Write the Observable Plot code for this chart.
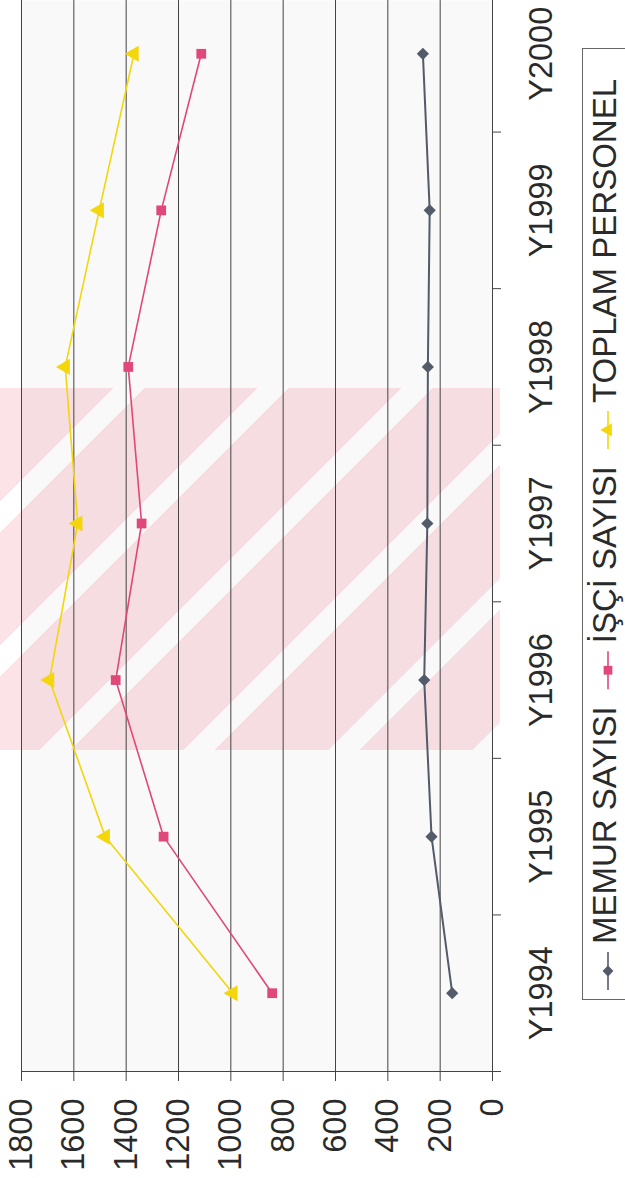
<!DOCTYPE html>
<html>
<head>
<meta charset="utf-8">
<script src="https://cdn.jsdelivr.net/npm/d3@7"></script>
<script src="https://cdn.jsdelivr.net/npm/@observablehq/plot@0.6"></script>
<style>
  html, body { margin: 0; padding: 0; background: #fff; width: 625px; height: 1178px; overflow: hidden; }
  #wrap { position: relative; width: 625px; height: 1178px; overflow: hidden; font-family: "Liberation Sans", Arial, sans-serif; }
  #wm { position: absolute; left: 0; top: 388px; width: 500px; height: 362px;
        background: repeating-linear-gradient(135deg, #fbe3e8 0 80px, #ffffff 80px 102px); }
  #chart { position: absolute; left: 0; top: 0; }
  #legend { position: absolute; left: 582px; top: 1000px; width: 952px; height: 70px;
            transform-origin: 0 0; transform: rotate(-90deg); }
</style>
</head>
<body>
<div id="wrap">
  <div id="wm"></div>
  <div id="chart"></div>
  <div id="legend"></div>
</div>
<script>
// ---- data ----
const categories = ["Y1994", "Y1995", "Y1996", "Y1997", "Y1998", "Y1999", "Y2000"];
const memurSayisi = [154, 233, 261, 249, 247, 240, 266];
const isciSayisi = [842, 1257, 1440, 1341, 1392, 1266, 1113];
const toplamPersonel = [992, 1480, 1693, 1585, 1633, 1503, 1370];
const seriesNames = ["MEMUR SAYISI", "İŞÇİ SAYISI", "TOPLAM PERSONEL"];
const valueTicks = [0, 200, 400, 600, 800, 1000, 1200, 1400, 1600, 1800];

const colors = ["#535a69", "#e0487a", "#f3d60c"];
const symbols = ["diamond2", "square", "triangle"];

const seriesValues = [memurSayisi, isciSayisi, toplamPersonel];
const rows = seriesValues.flatMap((vals, s) =>
  vals.map((v, i) => ({series: seriesNames[s], s, i, cat: categories[i], value: v})));

const catIdx = categories.map((c, i) => i);
const catBounds = categories.map((c, i) => i - 0.5).concat([categories.length - 0.5]);
const font = "Liberation Sans, Arial, sans-serif";

const chart = Plot.plot({
  width: 625,
  height: 1178,
  marginLeft: 21,
  marginRight: 133,
  marginTop: 0,
  marginBottom: 107,
  style: {background: "transparent", fontFamily: font, color: "#2a2a2a", overflow: "hidden"},
  x: {domain: [0, 1800], reverse: true},
  y: {type: "linear", domain: [-0.5, categories.length - 0.5], range: [1071, -25]},
  marks: [
    Plot.frame({fill: "#000", fillOpacity: 0.025, stroke: null}),
    Plot.ruleX(valueTicks, {stroke: "#444", strokeWidth: 1}),
    Plot.ruleY([-0.5], {stroke: "#444", strokeWidth: 1}),
    Plot.axisX({ticks: valueTicks, anchor: "bottom", tickSize: 10, tickPadding: 17,
      tickRotate: -90, textAnchor: "end", lineAnchor: "middle", fontSize: 32.5,
      tickFormat: d => String(d), label: null, stroke: "#444"}),
    Plot.axisY({ticks: catBounds, anchor: "right", tickSize: 8, tickFormat: () => "",
      label: null, stroke: "#444"}),
    Plot.axisY({ticks: catIdx, anchor: "right", tickSize: 0, tickPadding: 36,
      tickRotate: -90, textAnchor: "middle", lineAnchor: "top", fontSize: 32.5,
      tickFormat: i => categories[i], label: null}),
    ...seriesNames.map((name, s) => Plot.line(rows.filter(d => d.s === s), {
      x: "value", y: "i", stroke: colors[s], strokeWidth: s === 0 ? 2 : 1.6
    })),
    ...seriesNames.map((name, s) => Plot.dot(rows.filter(d => d.s === s), {
      x: "value", y: "i", fill: colors[s], stroke: "none",
      symbol: symbols[s], r: s === 2 ? 6 : 5.5, rotate: s === 2 ? -90 : 0
    }))
  ]
});
document.getElementById("chart").appendChild(chart);

// ---- legend (rotated box, reads bottom-to-top like the chart) ----
const lw = 952, lh = 70, fs = 33;
const legend = d3.select("#legend").append("svg")
  .attr("width", lw).attr("height", lh)
  .style("overflow", "visible")
  .attr("font-family", font);
legend.append("rect").attr("x", 0.5).attr("y", 0.5).attr("width", lw - 1).attr("height", lh + 20)
  .attr("fill", "#fff").attr("stroke", "#666").attr("stroke-width", 1);
const ctx = document.createElement("canvas").getContext("2d");
ctx.font = `${fs}px ${font}`;
let xpos = 10;
const sym = d3.symbol();
seriesNames.forEach((name, s) => {
  const g = legend.append("g");
  g.append("line").attr("x1", xpos).attr("x2", xpos + 38).attr("y1", 26).attr("y2", 26)
    .attr("stroke", colors[s]).attr("stroke-width", 1.6);
  const size = Math.PI * 5.5 * 5.5 * 0.8;
  const t = {diamond2: d3.symbolDiamond2, square: d3.symbolSquare, triangle: d3.symbolTriangle}[symbols[s]];
  g.append("path").attr("d", sym.type(t).size(size)())
    .attr("transform", `translate(${xpos + 19},26)`)
    .attr("fill", colors[s]);
  xpos += 38 + 8;
  g.append("text").attr("x", xpos).attr("y", 34).attr("font-size", fs).attr("fill", "#2a2a2a").text(name);
  xpos += ctx.measureText(name).width + 17;
});
</script>
</body>
</html>
